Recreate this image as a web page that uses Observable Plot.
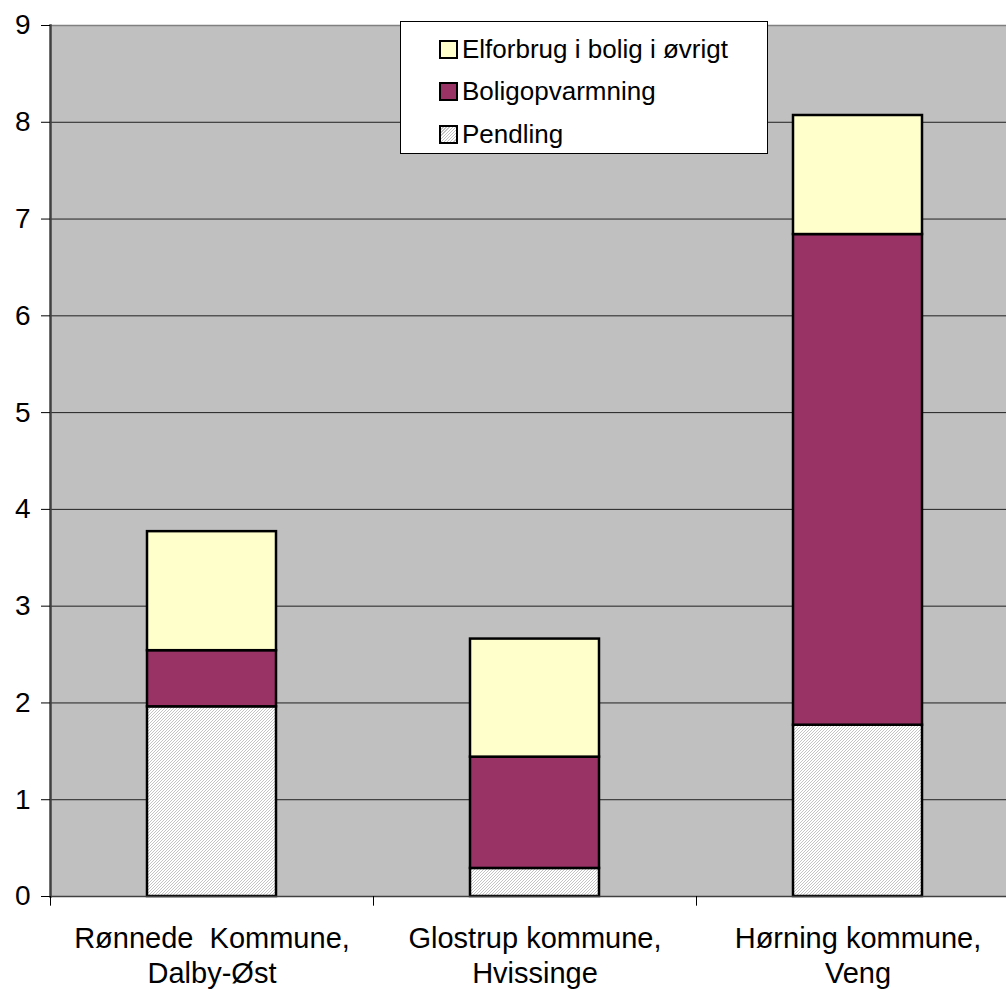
<!DOCTYPE html>
<html>
<head>
<meta charset="utf-8">
<script src="https://cdn.jsdelivr.net/npm/d3@7"></script>
<script src="https://cdn.jsdelivr.net/npm/@observablehq/plot@0.6"></script>
<style>
  html, body { margin: 0; padding: 0; background: #fff; overflow: hidden; }
  #wrap { position: relative; width: 1006px; height: 990px; font-family: Arial, "Liberation Sans", sans-serif; }
  #legend { position: absolute; left: 400px; top: 21px; width: 366px; height: 131px; background: #fff; border: 1px solid #000; }
  .row { position: absolute; left: 38px; height: 30px; display: flex; align-items: center; font-size: 26px; color: #000; }
  .sw { width: 15px; height: 15px; border: 2px solid #000; margin-right: 4px; }
</style>
</head>
<body>
<div id="wrap"></div>
<script>
const categories = ["Rønnede  Kommune,\nDalby-Øst", "Glostrup kommune,\nHvissinge", "Hørning kommune,\nVeng"];
const series = ["Pendling", "Boligopvarmning", "Elforbrug i bolig i øvrigt"];
const pendling = [1.96, 0.29, 1.77];
const boligopvarmning = [0.58, 1.15, 5.07];
const elforbrug = [1.23, 1.22, 1.23];
const yTicks = [0, 1, 2, 3, 4, 5, 6, 7, 8, 9];
const seriesColors = ["url(#hatch)", "#993366", "#FFFFCC"];
const legendOrder = ["Elforbrug i bolig i øvrigt", "Boligopvarmning", "Pendling"];

const valuesBySeries = [pendling, boligopvarmning, elforbrug];
const data = [];
series.forEach((s, si) => categories.forEach((c, ci) => data.push({category: c, series: s, value: valuesBySeries[si][ci]})));

const xRange = [50, 1019];
const step = (xRange[1] - xRange[0]) / categories.length;

const svg = Plot.plot({
  width: 1006,
  height: 990,
  marginLeft: 50,
  marginRight: 0,
  marginTop: 25,
  marginBottom: 94,
  style: {fontFamily: "Arial, 'Liberation Sans', sans-serif", background: "transparent", overflow: "hidden"},
  x: {domain: categories, range: xRange, paddingInner: 0.6, paddingOuter: 0.3, axis: null},
  y: {domain: [0, 9], axis: null},
  color: {domain: series, range: seriesColors},
  marks: [
    Plot.frame({fill: "#C0C0C0"}),
    Plot.ruleY(yTicks.filter(d => d > 0 && d < 9), {stroke: "#202020", strokeWidth: 1}),
    Plot.ruleY([9], {stroke: "#808080", strokeWidth: 1.5}),
    Plot.barY(data, Plot.stackY({x: "category", y: "value", fill: "series", order: series, stroke: "#000", strokeWidth: 2.5})),
    Plot.ruleY([0], {stroke: "#404040", strokeWidth: 1.5}),
    Plot.frame({anchor: "left", stroke: "#404040", strokeWidth: 2.5}),
    Plot.axisY(yTicks, {tickSize: 9, tickPadding: 11, fontSize: 28, stroke: "#000", color: "#000", label: null, tickFormat: d => String(d)}),
    Plot.ruleX(categories, {x: d => d, dx: -step / 2, y1: 0, y2: -0.1, stroke: "#000", strokeWidth: 1}),
    Plot.ruleX([categories[categories.length - 1]], {x: d => d, dx: step / 2, y1: 0, y2: -0.1, stroke: "#000", strokeWidth: 1}),
    Plot.text(categories, {x: d => d, frameAnchor: "bottom", dy: 27, lineAnchor: "top", lineHeight: 1.2, fontSize: 29, fill: "#000", text: d => d})
  ]
});

// hatch pattern
const ns = "http://www.w3.org/2000/svg";
const defs = document.createElementNS(ns, "defs");
defs.innerHTML = `<pattern id="hatch" patternUnits="userSpaceOnUse" width="3" height="3">
  <rect width="3" height="3" fill="#ffffff"/>
  <path d="M-1,1 l2,-2 M0,3 l3,-3 M2,4 l2,-2" stroke="#c4c4c4" stroke-width="1"/>
</pattern>`;
svg.insertBefore(defs, svg.firstChild);

const wrap = document.getElementById("wrap");
wrap.appendChild(svg);

const legend = document.createElement("div");
legend.id = "legend";
const swatchBg = {
  "Pendling": "repeating-linear-gradient(135deg, #fff 0 1.2px, #c4c4c4 1.2px 2.2px)",
  "Boligopvarmning": "#993366",
  "Elforbrug i bolig i øvrigt": "#FFFFCC"
};
legendOrder.forEach((s, i) => {
  const row = document.createElement("div");
  row.className = "row";
  row.style.top = (12 + i * 42.5) + "px";
  const sw = document.createElement("div");
  sw.className = "sw";
  sw.style.background = swatchBg[s];
  const t = document.createElement("span");
  t.textContent = s;
  row.appendChild(sw);
  row.appendChild(t);
  legend.appendChild(row);
});
wrap.appendChild(legend);
</script>
</body>
</html>
